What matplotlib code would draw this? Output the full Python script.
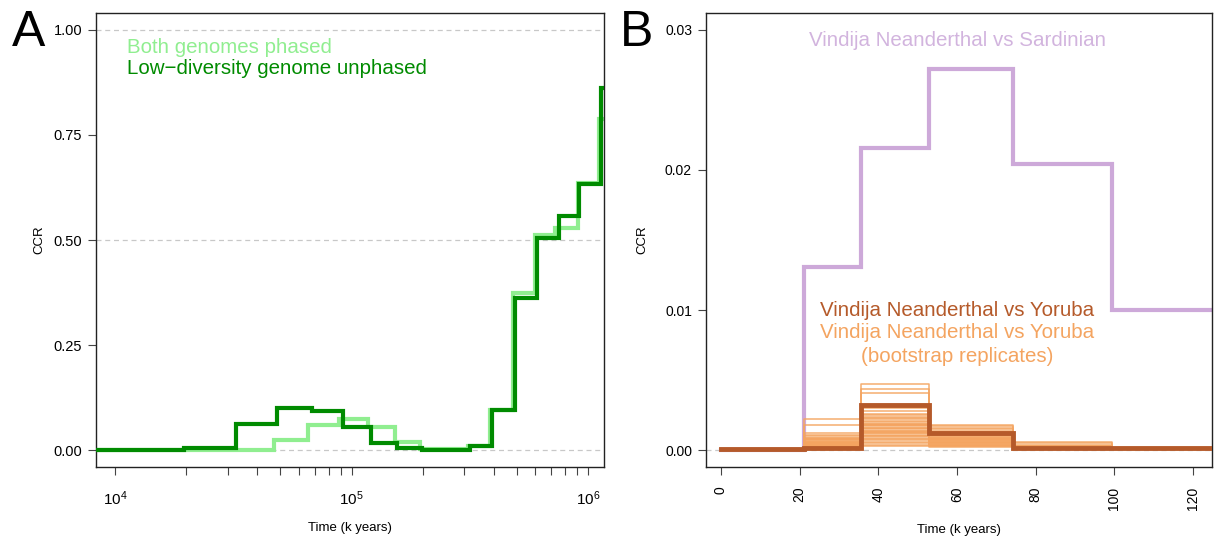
import matplotlib
matplotlib.use("Agg")
import matplotlib.pyplot as plt
from matplotlib.ticker import FixedLocator, NullFormatter, FixedFormatter

plt.rcParams['font.family'] = ['Liberation Sans', 'DejaVu Sans']
plt.rcParams['mathtext.fontset'] = 'custom'
plt.rcParams['mathtext.rm'] = 'Liberation Sans'
plt.rcParams['mathtext.it'] = 'Liberation Sans'

# ---------------- Panel A data ----------------
phased_edges = [1000, 19500, 47030, 65610, 88850, 117950, 152200, 194400, 309800,
                386000, 484500, 598400, 727800, 907900, 1112000, 3000000]
phased_ccr = [0.0, 0.001, 0.024, 0.059, 0.073, 0.0555, 0.019, 0.002, 0.010,
              0.095, 0.374, 0.513, 0.529, 0.636, 0.788]

unphased_edges = [1000, 19500, 32580, 48630, 68020, 91830, 121100, 155750, 199500,
                  316800, 391700, 492100, 608300, 752000, 914900, 1141000, 3000000]
unphased_ccr = [0.0, 0.006, 0.063, 0.1006, 0.094, 0.055, 0.0174, 0.0055, 0.0016,
                0.010, 0.095, 0.362, 0.505, 0.556, 0.633, 0.861]

a_xticks_major = [1e4, 1e5, 1e6]
a_xtick_labels = [r'$10^{4}$', r'$10^{5}$', r'$10^{6}$']
a_yticks = [0.0, 0.25, 0.5, 0.75, 1.0]
a_ytick_labels = ['0.00', '0.25', '0.50', '0.75', '1.00']
a_grid = [0.0, 0.5, 1.0]

# ---------------- Panel B data ----------------
b_edges = [0, 9.5, 21.1, 35.5, 52.9, 74.2, 99.4, 140]
sardinian_ccr = [0.0, 0.0, 0.0131, 0.02157, 0.0272, 0.02044, 0.01003]
yoruba_ccr = [0.0001, 0.00005, 0.00015, 0.00326, 0.00124, 0.00015, 0.00015]

# bootstrap replicates: values per segment (segments between b_edges)
boot_seg0 = [0.0001] * 35
boot_seg1 = [0.00005] * 35
boot_seg2 = [0.0022, 0.0018, 0.0012, 0.0011, 0.0010, 0.0009, 0.0008, 0.0008, 0.0007,
             0.0007, 0.0006, 0.0006, 0.0005, 0.0005, 0.0005, 0.0004, 0.0004, 0.0004,
             0.0003, 0.0003, 0.0003, 0.0003, 0.0002, 0.0002, 0.0002, 0.0002, 0.0001,
             0.0001, 0.0001, 0.0009, 0.0006, 0.0004, 0.0003, 0.0002, 0.0005]
boot_seg3 = [0.0047, 0.0044, 0.0041, 0.0030, 0.0028, 0.0026, 0.0025, 0.0024, 0.0023,
             0.0022, 0.0021, 0.0020, 0.0019, 0.0019, 0.0018, 0.0017, 0.0016, 0.0016,
             0.0015, 0.0014, 0.0014, 0.0013, 0.0012, 0.0011, 0.0010, 0.0010, 0.0009,
             0.0008, 0.0007, 0.0006, 0.0005, 0.0004, 0.0003, 0.0018, 0.0012]
boot_seg4 = [0.0018, 0.0017, 0.0016, 0.0015, 0.0014, 0.0013, 0.0013, 0.0012, 0.0012,
             0.0011, 0.0011, 0.0010, 0.0010, 0.0009, 0.0009, 0.0009, 0.0008, 0.0008,
             0.0008, 0.0007, 0.0007, 0.0007, 0.0006, 0.0006, 0.0006, 0.0005, 0.0005,
             0.0005, 0.0004, 0.0004, 0.0004, 0.0003, 0.0003, 0.0002, 0.0011]
boot_seg5 = [0.0006, 0.0005, 0.0004, 0.0003, 0.0003, 0.0002, 0.0002, 0.0002, 0.0002,
             0.0001, 0.0002, 0.0001, 0.0002, 0.0001, 0.0001, 0.0002, 0.0001, 0.0001,
             0.0002, 0.0001, 0.0001, 0.0002, 0.0001, 0.0001, 0.0003, 0.0002, 0.0001,
             0.0001, 0.0002, 0.0001, 0.0001, 0.0002, 0.0001, 0.0001, 0.0003]
boot_seg6 = [0.00015] * 35

b_xticks = [0, 20, 40, 60, 80, 100, 120]
b_yticks = [0.0, 0.01, 0.02, 0.03]
b_ytick_labels = ['0.00', '0.01', '0.02', '0.03']

LIGHT = '#90EE90'
DARK = '#008B00'
PURPLE = '#CDA9D9'
PURPLE_TXT = '#D2B4DE'
BROWN = '#B55A2A'
ORANGE = '#F4A460'
GRID = '#C8C8C8'

fig = plt.figure(figsize=(12.14, 5.41), dpi=100)
W, H = 1214, 541

def axes_px(l, r, t, b):
    return fig.add_axes([l / W, (H - b) / H, (r - l) / W, (b - t) / H])

def style(ax):
    for s in ax.spines.values():
        s.set_color('#222222')
        s.set_linewidth(1.0)
    ax.tick_params(axis='both', which='both', direction='out', length=6, width=0.8,
                   color='#444444')

def step(ax, edges, vals, **kw):
    ax.step(edges, list(vals) + [vals[-1]], where='post', **kw)

# ---------------- Panel A ----------------
axA = axes_px(96, 604, 13, 467)
style(axA)
axA.set_xscale('log')
axA.set_xlim(8300, 1.17e6)
axA.set_ylim(-0.04, 1.04)
for g in a_grid:
    axA.axhline(g, color=GRID, lw=0.9, ls=(0, (4, 3)), zorder=0)
step(axA, phased_edges, phased_ccr, color=LIGHT, lw=3.0, solid_joinstyle='miter', zorder=2)
step(axA, unphased_edges, unphased_ccr, color=DARK, lw=3.0, solid_joinstyle='miter', zorder=3)
axA.xaxis.set_major_locator(FixedLocator(a_xticks_major))
axA.xaxis.set_major_formatter(FixedFormatter(a_xtick_labels))
minors = [m * 10 ** e for e in (4, 5) for m in range(2, 10)]
axA.xaxis.set_minor_locator(FixedLocator(minors))
axA.xaxis.set_minor_formatter(NullFormatter())
axA.set_yticks(a_yticks)
axA.set_yticklabels(a_ytick_labels)
axA.tick_params(axis='x', which='both', labelsize=11, pad=10)
axA.tick_params(axis='y', labelsize=10.5, pad=4)
axA.set_xlabel('Time (k years)', fontsize=9.5, labelpad=10)
axA.set_ylabel('CCR', fontsize=9.5, labelpad=6)
axA.text(0.061, 0.925, 'Both genomes phased', transform=axA.transAxes, color=LIGHT,
         fontsize=14.8, va='center', ha='left')
axA.text(0.061, 0.877, 'Low\u2212diversity genome unphased', transform=axA.transAxes,
         color=DARK, fontsize=14.8, va='center', ha='left')
fig.text(12 / W, 1 - 33 / H, 'A', fontsize=36, va='center', ha='left')

# ---------------- Panel B ----------------
axB = axes_px(706, 1212, 13, 467)
style(axB)
axB.set_xlim(-3.8, 124.8)
axB.set_ylim(-0.0012, 0.0312)
axB.axhline(0.0, color=GRID, lw=0.9, ls=(0, (4, 3)), zorder=0)
boots = list(zip(boot_seg0, boot_seg1, boot_seg2, boot_seg3, boot_seg4, boot_seg5, boot_seg6))
for rep in boots:
    step(axB, b_edges, list(rep), color=ORANGE, lw=1.1, alpha=0.9, zorder=2)
step(axB, b_edges, sardinian_ccr, color=PURPLE, lw=3.0, solid_joinstyle='miter', zorder=1)
step(axB, b_edges, yoruba_ccr, color=BROWN, lw=3.5, solid_joinstyle='miter', zorder=3)
axB.set_xticks(b_xticks)
axB.set_xticklabels([str(v) for v in b_xticks], rotation=90)
axB.set_yticks(b_yticks)
axB.set_yticklabels(b_ytick_labels)
axB.tick_params(axis='x', labelsize=10, pad=8)
axB.tick_params(axis='y', labelsize=10, pad=4)
axB.set_xlabel('Time (k years)', fontsize=9.5, labelpad=10)
axB.set_ylabel('CCR', fontsize=9.5, labelpad=12)
cx = 0.497
axB.text(cx, 0.94, 'Vindija Neanderthal vs Sardinian', transform=axB.transAxes,
         color=PURPLE_TXT, fontsize=14.8, ha='center', va='center')
axB.text(cx, 0.344, 'Vindija Neanderthal vs Yoruba', transform=axB.transAxes,
         color=BROWN, fontsize=14.8, ha='center', va='center')
axB.text(cx, 0.296, 'Vindija Neanderthal vs Yoruba', transform=axB.transAxes,
         color=ORANGE, fontsize=14.8, ha='center', va='center')
axB.text(cx, 0.243, '(bootstrap replicates)', transform=axB.transAxes,
         color=ORANGE, fontsize=14.8, ha='center', va='center')
fig.text(620 / W, 1 - 33 / H, 'B', fontsize=36, va='center', ha='left')

fig.savefig('out.png', dpi=100)
